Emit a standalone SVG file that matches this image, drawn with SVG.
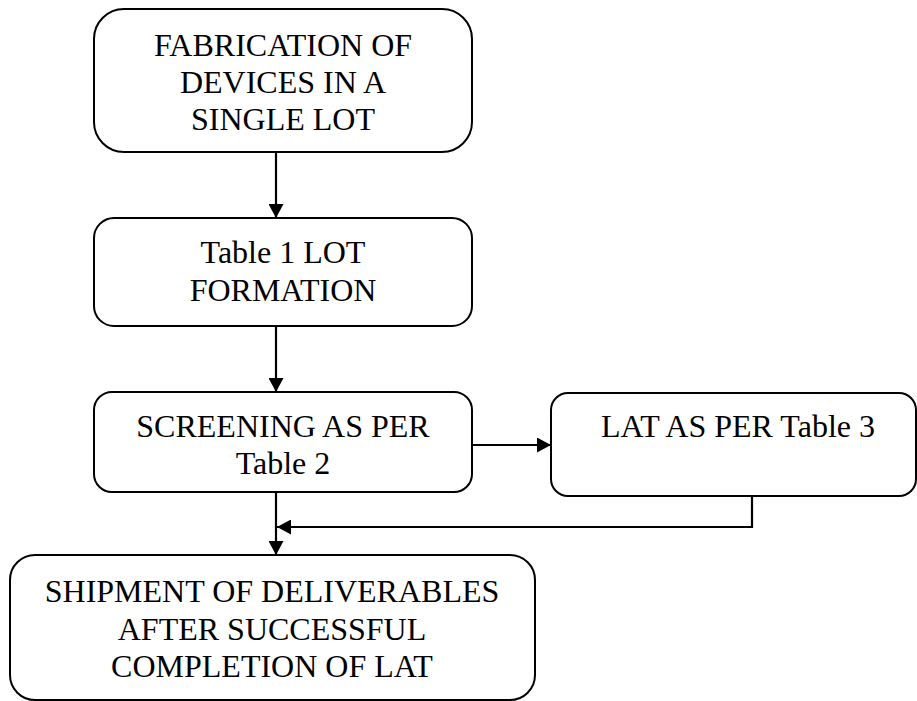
<svg xmlns="http://www.w3.org/2000/svg" width="917" height="701" viewBox="0 0 917 701">
<defs>
<style>
.box{fill:#fff;stroke:#000;stroke-width:2}
.t{font-family:"Liberation Serif","Times New Roman",serif;font-size:32px;fill:#000;text-anchor:middle}
.c{fill:none;stroke:#000;stroke-width:2.2}
</style>
<marker id="ah" markerUnits="userSpaceOnUse" markerWidth="15" markerHeight="15" refX="14" refY="7.5" orient="auto">
<path d="M0,0 L14,7.5 L0,15 z" fill="#000"/>
</marker>
</defs>
<rect width="917" height="701" fill="#fff"/>
<g id="connectors">
<line class="c" x1="276" y1="152" x2="276" y2="218" marker-end="url(#ah)"/>
<line class="c" x1="276" y1="326" x2="276" y2="392" marker-end="url(#ah)"/>
<line class="c" x1="472" y1="445" x2="551" y2="445" marker-end="url(#ah)"/>
<line class="c" x1="276" y1="492" x2="276" y2="555" marker-end="url(#ah)"/>
<polyline class="c" points="752,496 752,527 277,527" marker-end="url(#ah)"/>
</g>
<g id="n1">
<rect class="box" x="94" y="9" width="378" height="143" rx="30"/>
<text class="t" x="283" y="56">FABRICATION OF</text>
<text class="t" x="283" y="93">DEVICES IN A</text>
<text class="t" x="283" y="130">SINGLE LOT</text>
</g>
<g id="n2">
<rect class="box" x="94" y="218" width="378" height="108" rx="20"/>
<text class="t" x="283" y="263">Table 1 LOT</text>
<text class="t" x="283" y="301">FORMATION</text>
</g>
<g id="n3">
<rect class="box" x="94" y="392" width="378" height="100" rx="18"/>
<text class="t" x="283" y="437">SCREENING AS PER</text>
<text class="t" x="283" y="474">Table 2</text>
</g>
<g id="n4">
<rect class="box" x="551" y="393" width="365" height="103" rx="17"/>
<text class="t" x="738" y="437">LAT AS PER Table 3</text>
</g>
<g id="n5">
<rect class="box" x="10" y="555" width="525" height="145" rx="25"/>
<text class="t" x="272" y="602">SHIPMENT OF DELIVERABLES</text>
<text class="t" x="272" y="640">AFTER SUCCESSFUL</text>
<text class="t" x="272" y="677">COMPLETION OF LAT</text>
</g>
</svg>
